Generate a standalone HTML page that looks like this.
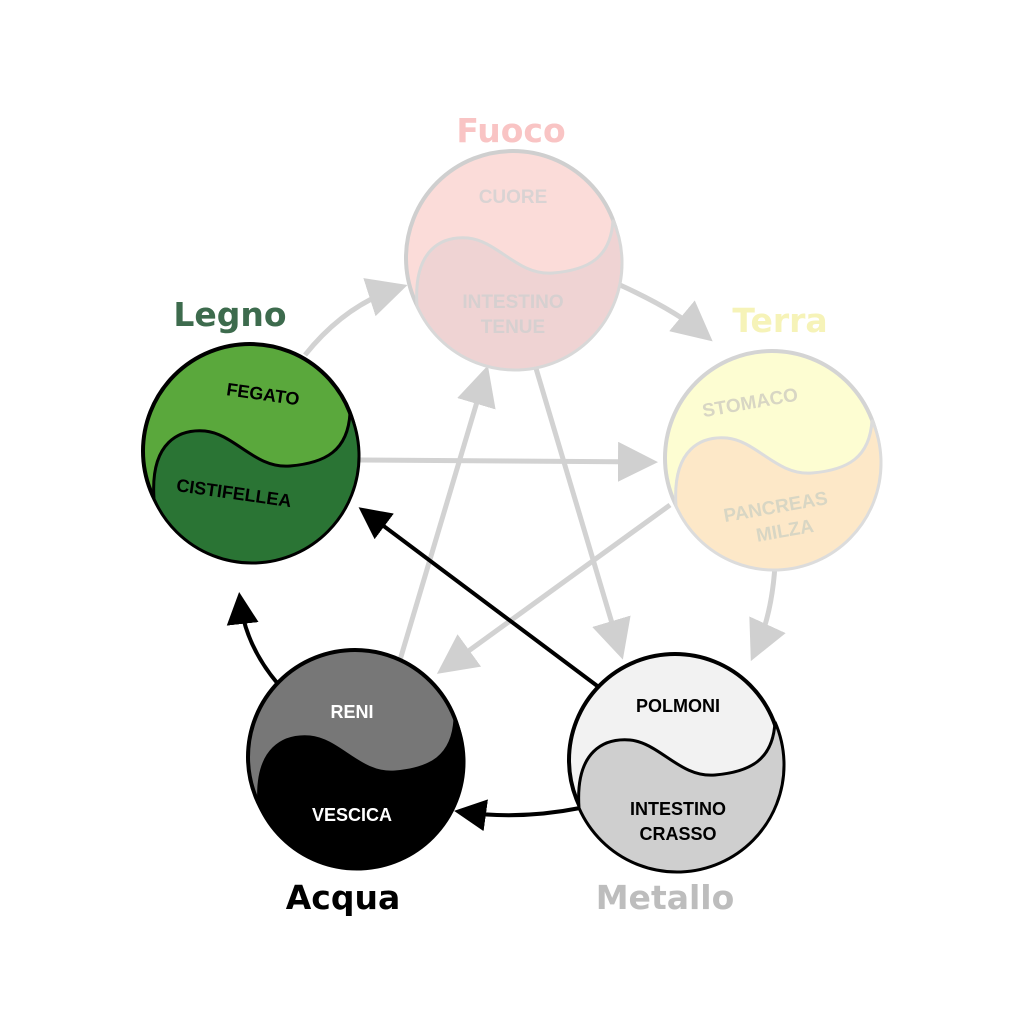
<!DOCTYPE html>
<html><head><meta charset="utf-8"><style>
html,body{margin:0;padding:0;background:#fff;}
svg{display:block;}
text{font-family:"Liberation Sans",Arial,sans-serif;font-weight:bold;text-anchor:middle;}
text.t{font-family:"DejaVu Sans","Liberation Sans",sans-serif;font-weight:900;}
</style></head><body>
<svg width="1024" height="1024" viewBox="0 0 1024 1024" xmlns="http://www.w3.org/2000/svg">
<defs>
<path id="yy" d="M -96,48 C -100,-10 -70,-22 -45,-20 C -15,-17 5,18 40,15 C 75,12 98,0 100,-38 A 107 107 0 0 1 -96,48 Z"/>
<marker id="ag" markerWidth="8" markerHeight="8" refX="6" refY="4" orient="auto" markerUnits="strokeWidth"><path d="M0,0 L8,4 L0,8 Z" fill="#d0d0d0"/></marker>
<marker id="ab" markerWidth="8" markerHeight="8" refX="6" refY="4" orient="auto" markerUnits="strokeWidth"><path d="M0,0 L8,4 L0,8 Z" fill="#000"/></marker>
</defs>
<g stroke="#d2d2d2" stroke-width="5" fill="none" marker-end="url(#ag)">
<path d="M305,355 Q345,305 398,288"/>
<path d="M620,285 Q675,310 705,335"/>
<path d="M775,565 Q772,615 755,652"/>
<path d="M360,460 L648,462"/>
<path d="M535,365 L620,650"/>
<path d="M670,505 L445,668"/>
<path d="M400,660 L485,375"/>
</g>
<g stroke="#000" stroke-width="4" fill="none" marker-end="url(#ab)">
<path d="M580,808 Q520,820 462,812"/>
<path d="M278,684 Q245,645 240,600"/>
<path d="M600,688 L365,512"/>
</g>
<g transform="translate(513,258)">
<circle r="107" fill="#fbdcd9" stroke="#cfcfcf" stroke-width="4"/>
<use href="#yy" fill="#efd3d3" stroke="#d8d8d8" stroke-width="3"/>
<text x="0" y="-55" font-size="19" fill="#d9d3d3">CUORE</text>
<text x="0" y="50" font-size="19" fill="#d6d0d0">INTESTINO</text>
<text x="0" y="75" font-size="19" fill="#d6d0d0">TENUE</text>
</g>
<text class="t" x="511" y="142" font-size="33" fill="#f9c4c4">Fuoco</text>
<g transform="translate(772,458)">
<circle r="107" fill="#fdfdd2" stroke="#d4d4d4" stroke-width="4"/>
<use href="#yy" fill="#fde8c8" stroke="#dcdcdc" stroke-width="3"/>
<g transform="rotate(-10)" fill="#d8d6c4" font-size="19">
<text x="-12" y="-52">STOMACO</text>
<text x="-5" y="55">PANCREAS</text>
<text x="0" y="80">MILZA</text>
</g>
</g>
<text class="t" x="780" y="332" font-size="33" fill="#f6f3b8">Terra</text>
<g transform="translate(250,451)">
<circle r="107" fill="#5aa83c" stroke="#000" stroke-width="4"/>
<use href="#yy" fill="#2a7434" stroke="#000" stroke-width="3"/>
<g transform="rotate(8)" fill="#000" font-size="18">
<text x="5" y="-52">FEGATO</text>
<text x="-10" y="50">CISTIFELLEA</text>
</g>
</g>
<text class="t" x="230" y="326" font-size="33" fill="#3d6b4d">Legno</text>
<g transform="translate(355,757)">
<circle r="107" fill="#777777" stroke="#000" stroke-width="4"/>
<use href="#yy" fill="#000" stroke="#000" stroke-width="3"/>
<text x="-3" y="-39" font-size="18" fill="#fff">RENI</text>
<text x="-3" y="64" font-size="18" fill="#fff">VESCICA</text>
</g>
<text class="t" x="343" y="909" font-size="33" fill="#000">Acqua</text>
<g transform="translate(675,760)">
<circle r="106" fill="#f2f2f2" stroke="#000" stroke-width="4"/>
<use href="#yy" fill="#cfcfcf" stroke="#000" stroke-width="3"/>
<text x="3" y="-48" font-size="18" fill="#000">POLMONI</text>
<text x="3" y="55" font-size="18" fill="#000">INTESTINO</text>
<text x="3" y="80" font-size="18" fill="#000">CRASSO</text>
</g>
<text class="t" x="665" y="909" font-size="33" fill="#bdbdbd">Metallo</text>
</svg>
</body></html>
